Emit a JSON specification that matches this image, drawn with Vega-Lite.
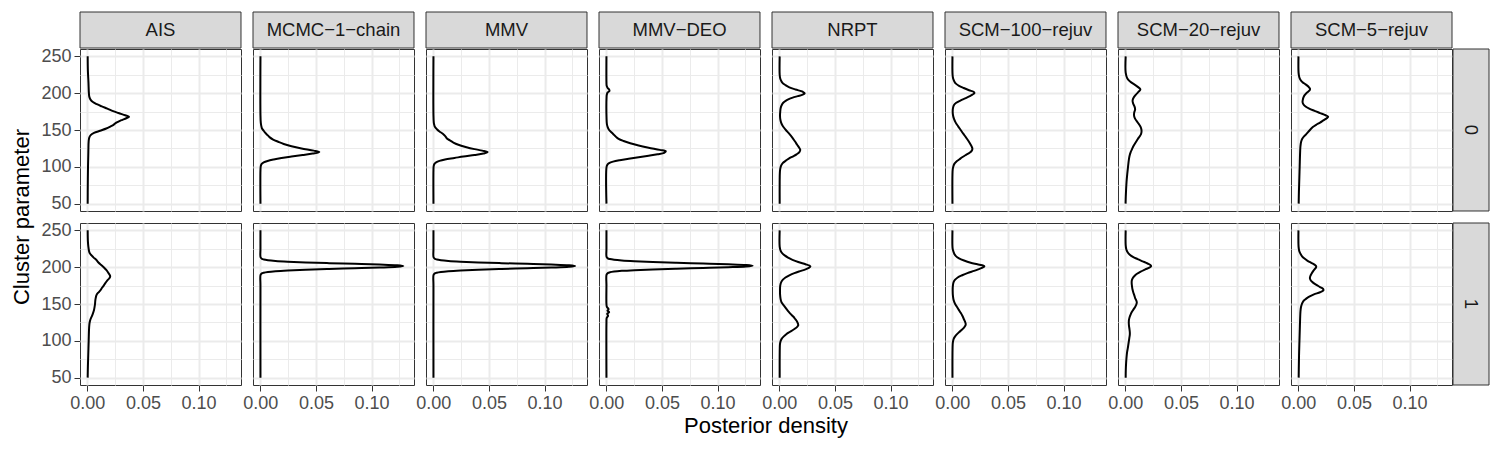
{
  "$schema": "https://vega.github.io/schema/vega-lite/v6.json",
  "background": "white",
  "padding": {"left": 10, "top": 11, "right": 10, "bottom": 5},
  "config": {
    "font": "Liberation Sans",
    "view": {"stroke": "#333333", "strokeWidth": 1},
    "axis": {
      "gridColor": "#EBEBEB",
      "labelColor": "#4D4D4D",
      "labelFontSize": 18,
      "labelFont": "Liberation Sans",
      "tickColor": "#333333",
      "tickSize": 6,
      "tickWidth": 1,
      "domain": false,
      "labelFlush": false,
      "labelPadding": 3
    }
  },
  "datasets": {
    "methods": [
      {"method": "AIS"}, {"method": "MCMC−1−chain"}, {"method": "MMV"}, {"method": "MMV−DEO"},
      {"method": "NRPT"}, {"method": "SCM−100−rejuv"}, {"method": "SCM−20−rejuv"}, {"method": "SCM−5−rejuv"}
    ],
    "clusters": [{"cluster": "0"}, {"cluster": "1"}],
    "curves": [
      {"method":"AIS","cluster":"0","param":250,"density":0.0003},
      {"method":"AIS","cluster":"0","param":230,"density":0.0005},
      {"method":"AIS","cluster":"0","param":215,"density":0.001},
      {"method":"AIS","cluster":"0","param":200,"density":0.0014},
      {"method":"AIS","cluster":"0","param":195,"density":0.0018},
      {"method":"AIS","cluster":"0","param":191,"density":0.003},
      {"method":"AIS","cluster":"0","param":188,"density":0.005},
      {"method":"AIS","cluster":"0","param":185,"density":0.0085},
      {"method":"AIS","cluster":"0","param":182,"density":0.013},
      {"method":"AIS","cluster":"0","param":179,"density":0.018},
      {"method":"AIS","cluster":"0","param":176,"density":0.0225},
      {"method":"AIS","cluster":"0","param":173,"density":0.028},
      {"method":"AIS","cluster":"0","param":170,"density":0.034},
      {"method":"AIS","cluster":"0","param":168,"density":0.0375},
      {"method":"AIS","cluster":"0","param":166,"density":0.035},
      {"method":"AIS","cluster":"0","param":163,"density":0.03},
      {"method":"AIS","cluster":"0","param":160,"density":0.026},
      {"method":"AIS","cluster":"0","param":157,"density":0.0235},
      {"method":"AIS","cluster":"0","param":155,"density":0.021},
      {"method":"AIS","cluster":"0","param":152,"density":0.017},
      {"method":"AIS","cluster":"0","param":149,"density":0.0115},
      {"method":"AIS","cluster":"0","param":146,"density":0.006},
      {"method":"AIS","cluster":"0","param":143,"density":0.003},
      {"method":"AIS","cluster":"0","param":140,"density":0.0018},
      {"method":"AIS","cluster":"0","param":135,"density":0.0012},
      {"method":"AIS","cluster":"0","param":120,"density":0.0009},
      {"method":"AIS","cluster":"0","param":100,"density":0.0006},
      {"method":"AIS","cluster":"0","param":75,"density":0.0004},
      {"method":"AIS","cluster":"0","param":50,"density":0.0003},

      {"method":"AIS","cluster":"1","param":250,"density":0.0003},
      {"method":"AIS","cluster":"1","param":235,"density":0.0005},
      {"method":"AIS","cluster":"1","param":228,"density":0.0009},
      {"method":"AIS","cluster":"1","param":222,"density":0.0015},
      {"method":"AIS","cluster":"1","param":219,"density":0.0022},
      {"method":"AIS","cluster":"1","param":216,"density":0.0038},
      {"method":"AIS","cluster":"1","param":213,"density":0.0057},
      {"method":"AIS","cluster":"1","param":210,"density":0.008},
      {"method":"AIS","cluster":"1","param":206,"density":0.0102},
      {"method":"AIS","cluster":"1","param":203,"density":0.0125},
      {"method":"AIS","cluster":"1","param":200,"density":0.0147},
      {"method":"AIS","cluster":"1","param":196,"density":0.0172},
      {"method":"AIS","cluster":"1","param":192,"density":0.019},
      {"method":"AIS","cluster":"1","param":189,"density":0.0203},
      {"method":"AIS","cluster":"1","param":187,"density":0.0205},
      {"method":"AIS","cluster":"1","param":185,"density":0.0198},
      {"method":"AIS","cluster":"1","param":182,"density":0.018},
      {"method":"AIS","cluster":"1","param":178,"density":0.016},
      {"method":"AIS","cluster":"1","param":175,"density":0.0147},
      {"method":"AIS","cluster":"1","param":172,"density":0.0132},
      {"method":"AIS","cluster":"1","param":168,"density":0.0115},
      {"method":"AIS","cluster":"1","param":165,"density":0.0095},
      {"method":"AIS","cluster":"1","param":162,"density":0.0082},
      {"method":"AIS","cluster":"1","param":158,"density":0.0075},
      {"method":"AIS","cluster":"1","param":154,"density":0.0071},
      {"method":"AIS","cluster":"1","param":150,"density":0.0069},
      {"method":"AIS","cluster":"1","param":146,"density":0.0065},
      {"method":"AIS","cluster":"1","param":142,"density":0.006},
      {"method":"AIS","cluster":"1","param":138,"density":0.0052},
      {"method":"AIS","cluster":"1","param":134,"density":0.0042},
      {"method":"AIS","cluster":"1","param":130,"density":0.003},
      {"method":"AIS","cluster":"1","param":126,"density":0.0022},
      {"method":"AIS","cluster":"1","param":122,"density":0.0018},
      {"method":"AIS","cluster":"1","param":115,"density":0.0015},
      {"method":"AIS","cluster":"1","param":100,"density":0.0012},
      {"method":"AIS","cluster":"1","param":80,"density":0.0008},
      {"method":"AIS","cluster":"1","param":65,"density":0.0005},
      {"method":"AIS","cluster":"1","param":50,"density":0.0003},

      {"method":"MCMC−1−chain","cluster":"0","param":250,"density":0.0001},
      {"method":"MCMC−1−chain","cluster":"0","param":170,"density":0.0001},
      {"method":"MCMC−1−chain","cluster":"0","param":160,"density":0.0004},
      {"method":"MCMC−1−chain","cluster":"0","param":156,"density":0.0008},
      {"method":"MCMC−1−chain","cluster":"0","param":152,"density":0.0015},
      {"method":"MCMC−1−chain","cluster":"0","param":149,"density":0.003},
      {"method":"MCMC−1−chain","cluster":"0","param":146,"density":0.0045},
      {"method":"MCMC−1−chain","cluster":"0","param":143,"density":0.0065},
      {"method":"MCMC−1−chain","cluster":"0","param":140,"density":0.0085},
      {"method":"MCMC−1−chain","cluster":"0","param":137,"density":0.0115},
      {"method":"MCMC−1−chain","cluster":"0","param":134,"density":0.016},
      {"method":"MCMC−1−chain","cluster":"0","param":131,"density":0.021},
      {"method":"MCMC−1−chain","cluster":"0","param":128,"density":0.028},
      {"method":"MCMC−1−chain","cluster":"0","param":125,"density":0.037},
      {"method":"MCMC−1−chain","cluster":"0","param":122,"density":0.048},
      {"method":"MCMC−1−chain","cluster":"0","param":120,"density":0.053},
      {"method":"MCMC−1−chain","cluster":"0","param":118,"density":0.047},
      {"method":"MCMC−1−chain","cluster":"0","param":116,"density":0.038},
      {"method":"MCMC−1−chain","cluster":"0","param":114,"density":0.028},
      {"method":"MCMC−1−chain","cluster":"0","param":112,"density":0.019},
      {"method":"MCMC−1−chain","cluster":"0","param":110,"density":0.012},
      {"method":"MCMC−1−chain","cluster":"0","param":108,"density":0.0065},
      {"method":"MCMC−1−chain","cluster":"0","param":106,"density":0.003},
      {"method":"MCMC−1−chain","cluster":"0","param":104,"density":0.0012},
      {"method":"MCMC−1−chain","cluster":"0","param":101,"density":0.0004},
      {"method":"MCMC−1−chain","cluster":"0","param":95,"density":0.0001},
      {"method":"MCMC−1−chain","cluster":"0","param":50,"density":0.0001},

      {"method":"MCMC−1−chain","cluster":"1","param":250,"density":0.0001},
      {"method":"MCMC−1−chain","cluster":"1","param":225,"density":0.0001},
      {"method":"MCMC−1−chain","cluster":"1","param":213.5,"density":0.0002},
      {"method":"MCMC−1−chain","cluster":"1","param":211.5,"density":0.0013},
      {"method":"MCMC−1−chain","cluster":"1","param":210.5,"density":0.0031},
      {"method":"MCMC−1−chain","cluster":"1","param":209.5,"density":0.0068},
      {"method":"MCMC−1−chain","cluster":"1","param":208.5,"density":0.0136},
      {"method":"MCMC−1−chain","cluster":"1","param":207.5,"density":0.0246},
      {"method":"MCMC−1−chain","cluster":"1","param":206.5,"density":0.0408},
      {"method":"MCMC−1−chain","cluster":"1","param":205.5,"density":0.0617},
      {"method":"MCMC−1−chain","cluster":"1","param":204.5,"density":0.085},
      {"method":"MCMC−1−chain","cluster":"1","param":203.5,"density":0.107},
      {"method":"MCMC−1−chain","cluster":"1","param":202.5,"density":0.1228},
      {"method":"MCMC−1−chain","cluster":"1","param":201.5,"density":0.1285},
      {"method":"MCMC−1−chain","cluster":"1","param":200.5,"density":0.1228},
      {"method":"MCMC−1−chain","cluster":"1","param":199.5,"density":0.107},
      {"method":"MCMC−1−chain","cluster":"1","param":198.5,"density":0.085},
      {"method":"MCMC−1−chain","cluster":"1","param":197.5,"density":0.0617},
      {"method":"MCMC−1−chain","cluster":"1","param":196.5,"density":0.0408},
      {"method":"MCMC−1−chain","cluster":"1","param":195.5,"density":0.0246},
      {"method":"MCMC−1−chain","cluster":"1","param":194.5,"density":0.0136},
      {"method":"MCMC−1−chain","cluster":"1","param":193.5,"density":0.0068},
      {"method":"MCMC−1−chain","cluster":"1","param":192.5,"density":0.0031},
      {"method":"MCMC−1−chain","cluster":"1","param":191.5,"density":0.0013},
      {"method":"MCMC−1−chain","cluster":"1","param":189.5,"density":0.0002},
      {"method":"MCMC−1−chain","cluster":"1","param":175,"density":0.0001},
      {"method":"MCMC−1−chain","cluster":"1","param":50,"density":0.0001},

      {"method":"MMV","cluster":"0","param":250,"density":0.0001},
      {"method":"MMV","cluster":"0","param":170,"density":0.0001},
      {"method":"MMV","cluster":"0","param":160,"density":0.0004},
      {"method":"MMV","cluster":"0","param":157,"density":0.0008},
      {"method":"MMV","cluster":"0","param":154,"density":0.0015},
      {"method":"MMV","cluster":"0","param":151,"density":0.0032},
      {"method":"MMV","cluster":"0","param":148,"density":0.0055},
      {"method":"MMV","cluster":"0","param":145,"density":0.0085},
      {"method":"MMV","cluster":"0","param":142,"density":0.0105},
      {"method":"MMV","cluster":"0","param":140,"density":0.0115},
      {"method":"MMV","cluster":"0","param":138,"density":0.0125},
      {"method":"MMV","cluster":"0","param":136,"density":0.0148},
      {"method":"MMV","cluster":"0","param":133,"density":0.018},
      {"method":"MMV","cluster":"0","param":130,"density":0.0225},
      {"method":"MMV","cluster":"0","param":127,"density":0.029},
      {"method":"MMV","cluster":"0","param":124,"density":0.037},
      {"method":"MMV","cluster":"0","param":122,"density":0.044},
      {"method":"MMV","cluster":"0","param":120,"density":0.0488},
      {"method":"MMV","cluster":"0","param":118,"density":0.045},
      {"method":"MMV","cluster":"0","param":116,"density":0.037},
      {"method":"MMV","cluster":"0","param":114,"density":0.027},
      {"method":"MMV","cluster":"0","param":112,"density":0.019},
      {"method":"MMV","cluster":"0","param":110,"density":0.0105},
      {"method":"MMV","cluster":"0","param":108,"density":0.0055},
      {"method":"MMV","cluster":"0","param":106,"density":0.0025},
      {"method":"MMV","cluster":"0","param":104,"density":0.001},
      {"method":"MMV","cluster":"0","param":101,"density":0.0003},
      {"method":"MMV","cluster":"0","param":95,"density":0.0001},
      {"method":"MMV","cluster":"0","param":50,"density":0.0001},

      {"method":"MMV","cluster":"1","param":250,"density":0.0001},
      {"method":"MMV","cluster":"1","param":225,"density":0.0001},
      {"method":"MMV","cluster":"1","param":213.5,"density":0.0002},
      {"method":"MMV","cluster":"1","param":211.5,"density":0.0013},
      {"method":"MMV","cluster":"1","param":210.5,"density":0.0031},
      {"method":"MMV","cluster":"1","param":209.5,"density":0.0068},
      {"method":"MMV","cluster":"1","param":208.5,"density":0.0135},
      {"method":"MMV","cluster":"1","param":207.5,"density":0.0244},
      {"method":"MMV","cluster":"1","param":206.5,"density":0.0404},
      {"method":"MMV","cluster":"1","param":205.5,"density":0.0612},
      {"method":"MMV","cluster":"1","param":204.5,"density":0.0844},
      {"method":"MMV","cluster":"1","param":203.5,"density":0.1061},
      {"method":"MMV","cluster":"1","param":202.5,"density":0.1218},
      {"method":"MMV","cluster":"1","param":201.5,"density":0.1275},
      {"method":"MMV","cluster":"1","param":200.5,"density":0.1218},
      {"method":"MMV","cluster":"1","param":199.5,"density":0.1061},
      {"method":"MMV","cluster":"1","param":198.5,"density":0.0844},
      {"method":"MMV","cluster":"1","param":197.5,"density":0.0612},
      {"method":"MMV","cluster":"1","param":196.5,"density":0.0404},
      {"method":"MMV","cluster":"1","param":195.5,"density":0.0244},
      {"method":"MMV","cluster":"1","param":194.5,"density":0.0135},
      {"method":"MMV","cluster":"1","param":193.5,"density":0.0068},
      {"method":"MMV","cluster":"1","param":192.5,"density":0.0031},
      {"method":"MMV","cluster":"1","param":191.5,"density":0.0013},
      {"method":"MMV","cluster":"1","param":189.5,"density":0.0002},
      {"method":"MMV","cluster":"1","param":175,"density":0.0001},
      {"method":"MMV","cluster":"1","param":50,"density":0.0001},

      {"method":"MMV−DEO","cluster":"0","param":250,"density":0.0001},
      {"method":"MMV−DEO","cluster":"0","param":215,"density":0.0001},
      {"method":"MMV−DEO","cluster":"0","param":210,"density":0.0003},
      {"method":"MMV−DEO","cluster":"0","param":207,"density":0.0012},
      {"method":"MMV−DEO","cluster":"0","param":205,"density":0.0025},
      {"method":"MMV−DEO","cluster":"0","param":203,"density":0.0028},
      {"method":"MMV−DEO","cluster":"0","param":201,"density":0.0012},
      {"method":"MMV−DEO","cluster":"0","param":198,"density":0.0004},
      {"method":"MMV−DEO","cluster":"0","param":195,"density":0.0002},
      {"method":"MMV−DEO","cluster":"0","param":165,"density":0.0002},
      {"method":"MMV−DEO","cluster":"0","param":158,"density":0.0005},
      {"method":"MMV−DEO","cluster":"0","param":154,"density":0.0012},
      {"method":"MMV−DEO","cluster":"0","param":150,"density":0.0025},
      {"method":"MMV−DEO","cluster":"0","param":147,"density":0.0045},
      {"method":"MMV−DEO","cluster":"0","param":144,"density":0.0065},
      {"method":"MMV−DEO","cluster":"0","param":141,"density":0.0085},
      {"method":"MMV−DEO","cluster":"0","param":138,"density":0.011},
      {"method":"MMV−DEO","cluster":"0","param":135,"density":0.0155},
      {"method":"MMV−DEO","cluster":"0","param":132,"density":0.0215},
      {"method":"MMV−DEO","cluster":"0","param":129,"density":0.029},
      {"method":"MMV−DEO","cluster":"0","param":126,"density":0.038},
      {"method":"MMV−DEO","cluster":"0","param":123,"density":0.048},
      {"method":"MMV−DEO","cluster":"0","param":121,"density":0.0535},
      {"method":"MMV−DEO","cluster":"0","param":119,"density":0.052},
      {"method":"MMV−DEO","cluster":"0","param":117,"density":0.046},
      {"method":"MMV−DEO","cluster":"0","param":115,"density":0.038},
      {"method":"MMV−DEO","cluster":"0","param":113,"density":0.029},
      {"method":"MMV−DEO","cluster":"0","param":111,"density":0.02},
      {"method":"MMV−DEO","cluster":"0","param":109,"density":0.012},
      {"method":"MMV−DEO","cluster":"0","param":107,"density":0.006},
      {"method":"MMV−DEO","cluster":"0","param":105,"density":0.0025},
      {"method":"MMV−DEO","cluster":"0","param":103,"density":0.001},
      {"method":"MMV−DEO","cluster":"0","param":100,"density":0.0002},
      {"method":"MMV−DEO","cluster":"0","param":50,"density":0.0001},

      {"method":"MMV−DEO","cluster":"1","param":250,"density":0.0001},
      {"method":"MMV−DEO","cluster":"1","param":225,"density":0.0001},
      {"method":"MMV−DEO","cluster":"1","param":214,"density":0.0002},
      {"method":"MMV−DEO","cluster":"1","param":212,"density":0.0013},
      {"method":"MMV−DEO","cluster":"1","param":211,"density":0.0032},
      {"method":"MMV−DEO","cluster":"1","param":210,"density":0.007},
      {"method":"MMV−DEO","cluster":"1","param":209,"density":0.0139},
      {"method":"MMV−DEO","cluster":"1","param":208,"density":0.0252},
      {"method":"MMV−DEO","cluster":"1","param":207,"density":0.0417},
      {"method":"MMV−DEO","cluster":"1","param":206,"density":0.063},
      {"method":"MMV−DEO","cluster":"1","param":205,"density":0.087},
      {"method":"MMV−DEO","cluster":"1","param":204,"density":0.1094},
      {"method":"MMV−DEO","cluster":"1","param":203,"density":0.1256},
      {"method":"MMV−DEO","cluster":"1","param":202,"density":0.1315},
      {"method":"MMV−DEO","cluster":"1","param":201,"density":0.1256},
      {"method":"MMV−DEO","cluster":"1","param":200,"density":0.1094},
      {"method":"MMV−DEO","cluster":"1","param":199,"density":0.087},
      {"method":"MMV−DEO","cluster":"1","param":198,"density":0.063},
      {"method":"MMV−DEO","cluster":"1","param":197,"density":0.0417},
      {"method":"MMV−DEO","cluster":"1","param":196,"density":0.0252},
      {"method":"MMV−DEO","cluster":"1","param":195,"density":0.0139},
      {"method":"MMV−DEO","cluster":"1","param":194,"density":0.007},
      {"method":"MMV−DEO","cluster":"1","param":193,"density":0.0032},
      {"method":"MMV−DEO","cluster":"1","param":192,"density":0.0013},
      {"method":"MMV−DEO","cluster":"1","param":190,"density":0.0002},
      {"method":"MMV−DEO","cluster":"1","param":175,"density":0.0001},
      {"method":"MMV−DEO","cluster":"1","param":150,"density":0.0001},
      {"method":"MMV−DEO","cluster":"1","param":146,"density":0.0005},
      {"method":"MMV−DEO","cluster":"1","param":143,"density":0.002},
      {"method":"MMV−DEO","cluster":"1","param":141,"density":0.001},
      {"method":"MMV−DEO","cluster":"1","param":139,"density":0.0025},
      {"method":"MMV−DEO","cluster":"1","param":137,"density":0.0008},
      {"method":"MMV−DEO","cluster":"1","param":134,"density":0.0015},
      {"method":"MMV−DEO","cluster":"1","param":131,"density":0.0003},
      {"method":"MMV−DEO","cluster":"1","param":125,"density":0.0001},
      {"method":"MMV−DEO","cluster":"1","param":50,"density":0.0001},

      {"method":"NRPT","cluster":"0","param":250,"density":0.0003},
      {"method":"NRPT","cluster":"0","param":225,"density":0.0003},
      {"method":"NRPT","cluster":"0","param":220,"density":0.0008},
      {"method":"NRPT","cluster":"0","param":217,"density":0.0016},
      {"method":"NRPT","cluster":"0","param":214,"density":0.0028},
      {"method":"NRPT","cluster":"0","param":211,"density":0.0055},
      {"method":"NRPT","cluster":"0","param":208,"density":0.009},
      {"method":"NRPT","cluster":"0","param":205,"density":0.0145},
      {"method":"NRPT","cluster":"0","param":202,"density":0.021},
      {"method":"NRPT","cluster":"0","param":200,"density":0.0228},
      {"method":"NRPT","cluster":"0","param":198,"density":0.021},
      {"method":"NRPT","cluster":"0","param":196,"density":0.0165},
      {"method":"NRPT","cluster":"0","param":194,"density":0.012},
      {"method":"NRPT","cluster":"0","param":192,"density":0.0085},
      {"method":"NRPT","cluster":"0","param":190,"density":0.006},
      {"method":"NRPT","cluster":"0","param":187,"density":0.0035},
      {"method":"NRPT","cluster":"0","param":184,"density":0.0022},
      {"method":"NRPT","cluster":"0","param":180,"density":0.0012},
      {"method":"NRPT","cluster":"0","param":175,"density":0.0008},
      {"method":"NRPT","cluster":"0","param":170,"density":0.0006},
      {"method":"NRPT","cluster":"0","param":165,"density":0.0008},
      {"method":"NRPT","cluster":"0","param":160,"density":0.0016},
      {"method":"NRPT","cluster":"0","param":155,"density":0.0032},
      {"method":"NRPT","cluster":"0","param":150,"density":0.0058},
      {"method":"NRPT","cluster":"0","param":145,"density":0.0088},
      {"method":"NRPT","cluster":"0","param":140,"density":0.0115},
      {"method":"NRPT","cluster":"0","param":135,"density":0.0138},
      {"method":"NRPT","cluster":"0","param":130,"density":0.016},
      {"method":"NRPT","cluster":"0","param":126,"density":0.0178},
      {"method":"NRPT","cluster":"0","param":123,"density":0.0188},
      {"method":"NRPT","cluster":"0","param":120,"density":0.018},
      {"method":"NRPT","cluster":"0","param":117,"density":0.0155},
      {"method":"NRPT","cluster":"0","param":114,"density":0.012},
      {"method":"NRPT","cluster":"0","param":111,"density":0.0085},
      {"method":"NRPT","cluster":"0","param":108,"density":0.0055},
      {"method":"NRPT","cluster":"0","param":105,"density":0.003},
      {"method":"NRPT","cluster":"0","param":102,"density":0.0017},
      {"method":"NRPT","cluster":"0","param":98,"density":0.0009},
      {"method":"NRPT","cluster":"0","param":93,"density":0.0005},
      {"method":"NRPT","cluster":"0","param":80,"density":0.0003},
      {"method":"NRPT","cluster":"0","param":50,"density":0.0003},

      {"method":"NRPT","cluster":"1","param":250,"density":0.0003},
      {"method":"NRPT","cluster":"1","param":228,"density":0.0003},
      {"method":"NRPT","cluster":"1","param":222,"density":0.0012},
      {"method":"NRPT","cluster":"1","param":219,"density":0.0025},
      {"method":"NRPT","cluster":"1","param":216,"density":0.0048},
      {"method":"NRPT","cluster":"1","param":213,"density":0.0078},
      {"method":"NRPT","cluster":"1","param":210,"density":0.0118},
      {"method":"NRPT","cluster":"1","param":207,"density":0.017},
      {"method":"NRPT","cluster":"1","param":204,"density":0.0235},
      {"method":"NRPT","cluster":"1","param":202,"density":0.0272},
      {"method":"NRPT","cluster":"1","param":201,"density":0.0279},
      {"method":"NRPT","cluster":"1","param":199,"density":0.0265},
      {"method":"NRPT","cluster":"1","param":197,"density":0.0235},
      {"method":"NRPT","cluster":"1","param":195,"density":0.0195},
      {"method":"NRPT","cluster":"1","param":192,"density":0.0135},
      {"method":"NRPT","cluster":"1","param":189,"density":0.009},
      {"method":"NRPT","cluster":"1","param":186,"density":0.0055},
      {"method":"NRPT","cluster":"1","param":183,"density":0.0032},
      {"method":"NRPT","cluster":"1","param":180,"density":0.0018},
      {"method":"NRPT","cluster":"1","param":175,"density":0.0008},
      {"method":"NRPT","cluster":"1","param":168,"density":0.0006},
      {"method":"NRPT","cluster":"1","param":162,"density":0.0007},
      {"method":"NRPT","cluster":"1","param":157,"density":0.0011},
      {"method":"NRPT","cluster":"1","param":153,"density":0.0018},
      {"method":"NRPT","cluster":"1","param":150,"density":0.003},
      {"method":"NRPT","cluster":"1","param":147,"density":0.0045},
      {"method":"NRPT","cluster":"1","param":144,"density":0.006},
      {"method":"NRPT","cluster":"1","param":141,"density":0.0075},
      {"method":"NRPT","cluster":"1","param":137,"density":0.0098},
      {"method":"NRPT","cluster":"1","param":133,"density":0.0125},
      {"method":"NRPT","cluster":"1","param":129,"density":0.0145},
      {"method":"NRPT","cluster":"1","param":126,"density":0.016},
      {"method":"NRPT","cluster":"1","param":123,"density":0.0168},
      {"method":"NRPT","cluster":"1","param":121,"density":0.017},
      {"method":"NRPT","cluster":"1","param":119,"density":0.016},
      {"method":"NRPT","cluster":"1","param":117,"density":0.0145},
      {"method":"NRPT","cluster":"1","param":115,"density":0.0125},
      {"method":"NRPT","cluster":"1","param":112,"density":0.0092},
      {"method":"NRPT","cluster":"1","param":109,"density":0.0062},
      {"method":"NRPT","cluster":"1","param":106,"density":0.004},
      {"method":"NRPT","cluster":"1","param":103,"density":0.0022},
      {"method":"NRPT","cluster":"1","param":100,"density":0.0012},
      {"method":"NRPT","cluster":"1","param":96,"density":0.0006},
      {"method":"NRPT","cluster":"1","param":90,"density":0.0004},
      {"method":"NRPT","cluster":"1","param":50,"density":0.0003},

      {"method":"SCM−100−rejuv","cluster":"0","param":250,"density":0.0001},
      {"method":"SCM−100−rejuv","cluster":"0","param":225,"density":0.0002},
      {"method":"SCM−100−rejuv","cluster":"0","param":220,"density":0.0007},
      {"method":"SCM−100−rejuv","cluster":"0","param":216,"density":0.0018},
      {"method":"SCM−100−rejuv","cluster":"0","param":213,"density":0.0032},
      {"method":"SCM−100−rejuv","cluster":"0","param":210,"density":0.006},
      {"method":"SCM−100−rejuv","cluster":"0","param":207,"density":0.0102},
      {"method":"SCM−100−rejuv","cluster":"0","param":204,"density":0.015},
      {"method":"SCM−100−rejuv","cluster":"0","param":201.5,"density":0.0195},
      {"method":"SCM−100−rejuv","cluster":"0","param":200,"density":0.0198},
      {"method":"SCM−100−rejuv","cluster":"0","param":198,"density":0.018},
      {"method":"SCM−100−rejuv","cluster":"0","param":196,"density":0.0158},
      {"method":"SCM−100−rejuv","cluster":"0","param":193,"density":0.0115},
      {"method":"SCM−100−rejuv","cluster":"0","param":190,"density":0.0072},
      {"method":"SCM−100−rejuv","cluster":"0","param":187,"density":0.0035},
      {"method":"SCM−100−rejuv","cluster":"0","param":184,"density":0.0015},
      {"method":"SCM−100−rejuv","cluster":"0","param":180,"density":0.0006},
      {"method":"SCM−100−rejuv","cluster":"0","param":175,"density":0.0003},
      {"method":"SCM−100−rejuv","cluster":"0","param":170,"density":0.0006},
      {"method":"SCM−100−rejuv","cluster":"0","param":165,"density":0.0015},
      {"method":"SCM−100−rejuv","cluster":"0","param":160,"density":0.003},
      {"method":"SCM−100−rejuv","cluster":"0","param":155,"density":0.0052},
      {"method":"SCM−100−rejuv","cluster":"0","param":150,"density":0.0075},
      {"method":"SCM−100−rejuv","cluster":"0","param":145,"density":0.0098},
      {"method":"SCM−100−rejuv","cluster":"0","param":140,"density":0.0122},
      {"method":"SCM−100−rejuv","cluster":"0","param":135,"density":0.0145},
      {"method":"SCM−100−rejuv","cluster":"0","param":130,"density":0.0165},
      {"method":"SCM−100−rejuv","cluster":"0","param":126,"density":0.0178},
      {"method":"SCM−100−rejuv","cluster":"0","param":124,"density":0.018},
      {"method":"SCM−100−rejuv","cluster":"0","param":122,"density":0.0175},
      {"method":"SCM−100−rejuv","cluster":"0","param":119,"density":0.0155},
      {"method":"SCM−100−rejuv","cluster":"0","param":116,"density":0.012},
      {"method":"SCM−100−rejuv","cluster":"0","param":113,"density":0.0088},
      {"method":"SCM−100−rejuv","cluster":"0","param":110,"density":0.0062},
      {"method":"SCM−100−rejuv","cluster":"0","param":107,"density":0.0035},
      {"method":"SCM−100−rejuv","cluster":"0","param":104,"density":0.0018},
      {"method":"SCM−100−rejuv","cluster":"0","param":100,"density":0.0008},
      {"method":"SCM−100−rejuv","cluster":"0","param":96,"density":0.0003},
      {"method":"SCM−100−rejuv","cluster":"0","param":50,"density":0.0001},

      {"method":"SCM−100−rejuv","cluster":"1","param":250,"density":0.0001},
      {"method":"SCM−100−rejuv","cluster":"1","param":226,"density":0.0002},
      {"method":"SCM−100−rejuv","cluster":"1","param":222,"density":0.0008},
      {"method":"SCM−100−rejuv","cluster":"1","param":218,"density":0.0018},
      {"method":"SCM−100−rejuv","cluster":"1","param":215,"density":0.0032},
      {"method":"SCM−100−rejuv","cluster":"1","param":212,"density":0.006},
      {"method":"SCM−100−rejuv","cluster":"1","param":209,"density":0.0105},
      {"method":"SCM−100−rejuv","cluster":"1","param":206,"density":0.0165},
      {"method":"SCM−100−rejuv","cluster":"1","param":204,"density":0.0225},
      {"method":"SCM−100−rejuv","cluster":"1","param":202,"density":0.028},
      {"method":"SCM−100−rejuv","cluster":"1","param":201,"density":0.0288},
      {"method":"SCM−100−rejuv","cluster":"1","param":199,"density":0.0265},
      {"method":"SCM−100−rejuv","cluster":"1","param":197,"density":0.0232},
      {"method":"SCM−100−rejuv","cluster":"1","param":195,"density":0.0195},
      {"method":"SCM−100−rejuv","cluster":"1","param":192,"density":0.0135},
      {"method":"SCM−100−rejuv","cluster":"1","param":189,"density":0.0088},
      {"method":"SCM−100−rejuv","cluster":"1","param":186,"density":0.0048},
      {"method":"SCM−100−rejuv","cluster":"1","param":183,"density":0.0025},
      {"method":"SCM−100−rejuv","cluster":"1","param":180,"density":0.0012},
      {"method":"SCM−100−rejuv","cluster":"1","param":175,"density":0.0005},
      {"method":"SCM−100−rejuv","cluster":"1","param":168,"density":0.0003},
      {"method":"SCM−100−rejuv","cluster":"1","param":160,"density":0.0006},
      {"method":"SCM−100−rejuv","cluster":"1","param":155,"density":0.0012},
      {"method":"SCM−100−rejuv","cluster":"1","param":150,"density":0.0025},
      {"method":"SCM−100−rejuv","cluster":"1","param":146,"density":0.0042},
      {"method":"SCM−100−rejuv","cluster":"1","param":142,"density":0.0058},
      {"method":"SCM−100−rejuv","cluster":"1","param":138,"density":0.0075},
      {"method":"SCM−100−rejuv","cluster":"1","param":134,"density":0.009},
      {"method":"SCM−100−rejuv","cluster":"1","param":130,"density":0.0102},
      {"method":"SCM−100−rejuv","cluster":"1","param":126,"density":0.0114},
      {"method":"SCM−100−rejuv","cluster":"1","param":123,"density":0.012},
      {"method":"SCM−100−rejuv","cluster":"1","param":121,"density":0.0118},
      {"method":"SCM−100−rejuv","cluster":"1","param":118,"density":0.0105},
      {"method":"SCM−100−rejuv","cluster":"1","param":115,"density":0.0085},
      {"method":"SCM−100−rejuv","cluster":"1","param":112,"density":0.0062},
      {"method":"SCM−100−rejuv","cluster":"1","param":109,"density":0.0042},
      {"method":"SCM−100−rejuv","cluster":"1","param":106,"density":0.0025},
      {"method":"SCM−100−rejuv","cluster":"1","param":103,"density":0.0013},
      {"method":"SCM−100−rejuv","cluster":"1","param":99,"density":0.0006},
      {"method":"SCM−100−rejuv","cluster":"1","param":95,"density":0.0003},
      {"method":"SCM−100−rejuv","cluster":"1","param":50,"density":0.0001},

      {"method":"SCM−20−rejuv","cluster":"0","param":250,"density":0.0003},
      {"method":"SCM−20−rejuv","cluster":"0","param":228,"density":0.0003},
      {"method":"SCM−20−rejuv","cluster":"0","param":220,"density":0.0018},
      {"method":"SCM−20−rejuv","cluster":"0","param":215,"density":0.005},
      {"method":"SCM−20−rejuv","cluster":"0","param":211,"density":0.009},
      {"method":"SCM−20−rejuv","cluster":"0","param":207,"density":0.0125},
      {"method":"SCM−20−rejuv","cluster":"0","param":205,"density":0.0135},
      {"method":"SCM−20−rejuv","cluster":"0","param":202,"density":0.012},
      {"method":"SCM−20−rejuv","cluster":"0","param":198,"density":0.0095},
      {"method":"SCM−20−rejuv","cluster":"0","param":194,"density":0.0075},
      {"method":"SCM−20−rejuv","cluster":"0","param":190,"density":0.0065},
      {"method":"SCM−20−rejuv","cluster":"0","param":186,"density":0.007},
      {"method":"SCM−20−rejuv","cluster":"0","param":182,"density":0.0082},
      {"method":"SCM−20−rejuv","cluster":"0","param":178,"density":0.0088},
      {"method":"SCM−20−rejuv","cluster":"0","param":174,"density":0.008},
      {"method":"SCM−20−rejuv","cluster":"0","param":170,"density":0.0078},
      {"method":"SCM−20−rejuv","cluster":"0","param":166,"density":0.0085},
      {"method":"SCM−20−rejuv","cluster":"0","param":162,"density":0.0102},
      {"method":"SCM−20−rejuv","cluster":"0","param":158,"density":0.0122},
      {"method":"SCM−20−rejuv","cluster":"0","param":154,"density":0.0138},
      {"method":"SCM−20−rejuv","cluster":"0","param":150,"density":0.0145},
      {"method":"SCM−20−rejuv","cluster":"0","param":147,"density":0.0145},
      {"method":"SCM−20−rejuv","cluster":"0","param":144,"density":0.014},
      {"method":"SCM−20−rejuv","cluster":"0","param":140,"density":0.0122},
      {"method":"SCM−20−rejuv","cluster":"0","param":136,"density":0.0105},
      {"method":"SCM−20−rejuv","cluster":"0","param":132,"density":0.0088},
      {"method":"SCM−20−rejuv","cluster":"0","param":128,"density":0.0072},
      {"method":"SCM−20−rejuv","cluster":"0","param":124,"density":0.006},
      {"method":"SCM−20−rejuv","cluster":"0","param":120,"density":0.0048},
      {"method":"SCM−20−rejuv","cluster":"0","param":115,"density":0.0038},
      {"method":"SCM−20−rejuv","cluster":"0","param":110,"density":0.0032},
      {"method":"SCM−20−rejuv","cluster":"0","param":100,"density":0.0024},
      {"method":"SCM−20−rejuv","cluster":"0","param":90,"density":0.0017},
      {"method":"SCM−20−rejuv","cluster":"0","param":80,"density":0.0011},
      {"method":"SCM−20−rejuv","cluster":"0","param":70,"density":0.0007},
      {"method":"SCM−20−rejuv","cluster":"0","param":60,"density":0.0004},
      {"method":"SCM−20−rejuv","cluster":"0","param":50,"density":0.0002},

      {"method":"SCM−20−rejuv","cluster":"1","param":250,"density":0.0003},
      {"method":"SCM−20−rejuv","cluster":"1","param":230,"density":0.0003},
      {"method":"SCM−20−rejuv","cluster":"1","param":224,"density":0.0009},
      {"method":"SCM−20−rejuv","cluster":"1","param":220,"density":0.0022},
      {"method":"SCM−20−rejuv","cluster":"1","param":217,"density":0.004},
      {"method":"SCM−20−rejuv","cluster":"1","param":214,"density":0.0068},
      {"method":"SCM−20−rejuv","cluster":"1","param":211,"density":0.011},
      {"method":"SCM−20−rejuv","cluster":"1","param":208,"density":0.0155},
      {"method":"SCM−20−rejuv","cluster":"1","param":205,"density":0.02},
      {"method":"SCM−20−rejuv","cluster":"1","param":203,"density":0.0225},
      {"method":"SCM−20−rejuv","cluster":"1","param":201.5,"density":0.0232},
      {"method":"SCM−20−rejuv","cluster":"1","param":199.5,"density":0.0215},
      {"method":"SCM−20−rejuv","cluster":"1","param":197,"density":0.018},
      {"method":"SCM−20−rejuv","cluster":"1","param":194,"density":0.0138},
      {"method":"SCM−20−rejuv","cluster":"1","param":191,"density":0.0105},
      {"method":"SCM−20−rejuv","cluster":"1","param":188,"density":0.0082},
      {"method":"SCM−20−rejuv","cluster":"1","param":185,"density":0.0066},
      {"method":"SCM−20−rejuv","cluster":"1","param":182,"density":0.0058},
      {"method":"SCM−20−rejuv","cluster":"1","param":178,"density":0.0057},
      {"method":"SCM−20−rejuv","cluster":"1","param":174,"density":0.006},
      {"method":"SCM−20−rejuv","cluster":"1","param":170,"density":0.0064},
      {"method":"SCM−20−rejuv","cluster":"1","param":166,"density":0.0071},
      {"method":"SCM−20−rejuv","cluster":"1","param":162,"density":0.008},
      {"method":"SCM−20−rejuv","cluster":"1","param":158,"density":0.0088},
      {"method":"SCM−20−rejuv","cluster":"1","param":155,"density":0.0098},
      {"method":"SCM−20−rejuv","cluster":"1","param":152,"density":0.0103},
      {"method":"SCM−20−rejuv","cluster":"1","param":149,"density":0.0098},
      {"method":"SCM−20−rejuv","cluster":"1","param":146,"density":0.0088},
      {"method":"SCM−20−rejuv","cluster":"1","param":143,"density":0.0075},
      {"method":"SCM−20−rejuv","cluster":"1","param":140,"density":0.0062},
      {"method":"SCM−20−rejuv","cluster":"1","param":136,"density":0.0048},
      {"method":"SCM−20−rejuv","cluster":"1","param":132,"density":0.0038},
      {"method":"SCM−20−rejuv","cluster":"1","param":128,"density":0.0032},
      {"method":"SCM−20−rejuv","cluster":"1","param":124,"density":0.0031},
      {"method":"SCM−20−rejuv","cluster":"1","param":120,"density":0.0033},
      {"method":"SCM−20−rejuv","cluster":"1","param":116,"density":0.0037},
      {"method":"SCM−20−rejuv","cluster":"1","param":112,"density":0.004},
      {"method":"SCM−20−rejuv","cluster":"1","param":108,"density":0.004},
      {"method":"SCM−20−rejuv","cluster":"1","param":104,"density":0.0036},
      {"method":"SCM−20−rejuv","cluster":"1","param":100,"density":0.0032},
      {"method":"SCM−20−rejuv","cluster":"1","param":95,"density":0.0027},
      {"method":"SCM−20−rejuv","cluster":"1","param":90,"density":0.0022},
      {"method":"SCM−20−rejuv","cluster":"1","param":85,"density":0.0016},
      {"method":"SCM−20−rejuv","cluster":"1","param":78,"density":0.0011},
      {"method":"SCM−20−rejuv","cluster":"1","param":70,"density":0.0007},
      {"method":"SCM−20−rejuv","cluster":"1","param":60,"density":0.0004},
      {"method":"SCM−20−rejuv","cluster":"1","param":50,"density":0.0003},

      {"method":"SCM−5−rejuv","cluster":"0","param":250,"density":0.0001},
      {"method":"SCM−5−rejuv","cluster":"0","param":228,"density":0.0002},
      {"method":"SCM−5−rejuv","cluster":"0","param":222,"density":0.0008},
      {"method":"SCM−5−rejuv","cluster":"0","param":218,"density":0.002},
      {"method":"SCM−5−rejuv","cluster":"0","param":215,"density":0.0038},
      {"method":"SCM−5−rejuv","cluster":"0","param":212,"density":0.0065},
      {"method":"SCM−5−rejuv","cluster":"0","param":209,"density":0.009},
      {"method":"SCM−5−rejuv","cluster":"0","param":206,"density":0.0105},
      {"method":"SCM−5−rejuv","cluster":"0","param":204,"density":0.0102},
      {"method":"SCM−5−rejuv","cluster":"0","param":202,"density":0.0088},
      {"method":"SCM−5−rejuv","cluster":"0","param":200,"density":0.0072},
      {"method":"SCM−5−rejuv","cluster":"0","param":197,"density":0.0055},
      {"method":"SCM−5−rejuv","cluster":"0","param":194,"density":0.0045},
      {"method":"SCM−5−rejuv","cluster":"0","param":191,"density":0.004},
      {"method":"SCM−5−rejuv","cluster":"0","param":188,"density":0.0038},
      {"method":"SCM−5−rejuv","cluster":"0","param":185,"density":0.0045},
      {"method":"SCM−5−rejuv","cluster":"0","param":182,"density":0.0065},
      {"method":"SCM−5−rejuv","cluster":"0","param":179,"density":0.0098},
      {"method":"SCM−5−rejuv","cluster":"0","param":176,"density":0.0145},
      {"method":"SCM−5−rejuv","cluster":"0","param":173,"density":0.0195},
      {"method":"SCM−5−rejuv","cluster":"0","param":170,"density":0.0245},
      {"method":"SCM−5−rejuv","cluster":"0","param":168,"density":0.0268},
      {"method":"SCM−5−rejuv","cluster":"0","param":166,"density":0.0255},
      {"method":"SCM−5−rejuv","cluster":"0","param":163,"density":0.0225},
      {"method":"SCM−5−rejuv","cluster":"0","param":160,"density":0.0195},
      {"method":"SCM−5−rejuv","cluster":"0","param":157,"density":0.016},
      {"method":"SCM−5−rejuv","cluster":"0","param":154,"density":0.013},
      {"method":"SCM−5−rejuv","cluster":"0","param":151,"density":0.011},
      {"method":"SCM−5−rejuv","cluster":"0","param":148,"density":0.0092},
      {"method":"SCM−5−rejuv","cluster":"0","param":145,"density":0.0075},
      {"method":"SCM−5−rejuv","cluster":"0","param":142,"density":0.0055},
      {"method":"SCM−5−rejuv","cluster":"0","param":138,"density":0.0035},
      {"method":"SCM−5−rejuv","cluster":"0","param":134,"density":0.0025},
      {"method":"SCM−5−rejuv","cluster":"0","param":128,"density":0.0019},
      {"method":"SCM−5−rejuv","cluster":"0","param":120,"density":0.0016},
      {"method":"SCM−5−rejuv","cluster":"0","param":100,"density":0.0012},
      {"method":"SCM−5−rejuv","cluster":"0","param":80,"density":0.0008},
      {"method":"SCM−5−rejuv","cluster":"0","param":65,"density":0.0005},
      {"method":"SCM−5−rejuv","cluster":"0","param":50,"density":0.0003},

      {"method":"SCM−5−rejuv","cluster":"1","param":250,"density":0.0001},
      {"method":"SCM−5−rejuv","cluster":"1","param":228,"density":0.0002},
      {"method":"SCM−5−rejuv","cluster":"1","param":222,"density":0.0008},
      {"method":"SCM−5−rejuv","cluster":"1","param":218,"density":0.002},
      {"method":"SCM−5−rejuv","cluster":"1","param":215,"density":0.0032},
      {"method":"SCM−5−rejuv","cluster":"1","param":212,"density":0.0052},
      {"method":"SCM−5−rejuv","cluster":"1","param":209,"density":0.008},
      {"method":"SCM−5−rejuv","cluster":"1","param":206,"density":0.0115},
      {"method":"SCM−5−rejuv","cluster":"1","param":203.5,"density":0.0145},
      {"method":"SCM−5−rejuv","cluster":"1","param":201.5,"density":0.016},
      {"method":"SCM−5−rejuv","cluster":"1","param":199.5,"density":0.0158},
      {"method":"SCM−5−rejuv","cluster":"1","param":197,"density":0.0145},
      {"method":"SCM−5−rejuv","cluster":"1","param":194,"density":0.013},
      {"method":"SCM−5−rejuv","cluster":"1","param":191,"density":0.0118},
      {"method":"SCM−5−rejuv","cluster":"1","param":188,"density":0.0108},
      {"method":"SCM−5−rejuv","cluster":"1","param":185,"density":0.0104},
      {"method":"SCM−5−rejuv","cluster":"1","param":182,"density":0.0112},
      {"method":"SCM−5−rejuv","cluster":"1","param":179,"density":0.0132},
      {"method":"SCM−5−rejuv","cluster":"1","param":176,"density":0.0162},
      {"method":"SCM−5−rejuv","cluster":"1","param":173,"density":0.0195},
      {"method":"SCM−5−rejuv","cluster":"1","param":170.5,"density":0.0222},
      {"method":"SCM−5−rejuv","cluster":"1","param":168.5,"density":0.0225},
      {"method":"SCM−5−rejuv","cluster":"1","param":166,"density":0.0195},
      {"method":"SCM−5−rejuv","cluster":"1","param":163,"density":0.014},
      {"method":"SCM−5−rejuv","cluster":"1","param":160,"density":0.0098},
      {"method":"SCM−5−rejuv","cluster":"1","param":157,"density":0.0068},
      {"method":"SCM−5−rejuv","cluster":"1","param":154,"density":0.0045},
      {"method":"SCM−5−rejuv","cluster":"1","param":150,"density":0.0032},
      {"method":"SCM−5−rejuv","cluster":"1","param":146,"density":0.0024},
      {"method":"SCM−5−rejuv","cluster":"1","param":140,"density":0.0019},
      {"method":"SCM−5−rejuv","cluster":"1","param":130,"density":0.0016},
      {"method":"SCM−5−rejuv","cluster":"1","param":115,"density":0.0013},
      {"method":"SCM−5−rejuv","cluster":"1","param":100,"density":0.001},
      {"method":"SCM−5−rejuv","cluster":"1","param":85,"density":0.0007},
      {"method":"SCM−5−rejuv","cluster":"1","param":70,"density":0.0005},
      {"method":"SCM−5−rejuv","cluster":"1","param":50,"density":0.0003}
    ]
  },
  "spacing": -5,
  "vconcat": [
    {
      "data": {"name": "methods"},
      "width": 1372,
      "height": 36,
      "view": {"stroke": null},
      "encoding": {
        "x": {
          "field": "method", "type": "nominal",
          "sort": ["AIS", "MCMC−1−chain", "MMV", "MMV−DEO", "NRPT", "SCM−100−rejuv", "SCM−20−rejuv", "SCM−5−rejuv"],
          "scale": {"paddingInner": 0.0694, "paddingOuter": 0},
          "axis": null
        }
      },
      "layer": [
        {"mark": {"type": "rect", "fill": "#D9D9D9", "stroke": "#333333", "strokeWidth": 1}},
        {"mark": {"type": "text", "fontSize": 18.5, "color": "#1A1A1A", "font": "Liberation Sans"},
         "encoding": {"text": {"field": "method"}}}
      ]
    },
    {
      "spacing": -1,
      "hconcat": [
        {
          "data": {"name": "curves"},
          "bounds": "flush",
          "spacing": {"row": 12, "column": 12},
          "facet": {
            "row": {
              "field": "cluster", "type": "nominal",
              "header": {"labels": false, "title": "Cluster parameter", "titleOrient": "left",
                         "titleFontSize": 22, "titleFontWeight": "normal", "titleColor": "black",
                         "titleFont": "Liberation Sans", "titlePadding": -4}
            },
            "column": {
              "field": "method", "type": "nominal",
              "sort": ["AIS", "MCMC−1−chain", "MMV", "MMV−DEO", "NRPT", "SCM−100−rejuv", "SCM−20−rejuv", "SCM−5−rejuv"],
              "header": {"labels": false, "title": "Posterior density", "titleOrient": "bottom",
                         "titleFontSize": 22, "titleFontWeight": "normal", "titleColor": "black",
                         "titleFont": "Liberation Sans", "titlePadding": -6}
            }
          },
          "spec": {
            "width": 161,
            "height": 162,
            "mark": {"type": "line", "color": "black", "strokeWidth": 2, "interpolate": "catmull-rom"},
            "encoding": {
              "x": {
                "field": "density", "type": "quantitative",
                "scale": {"domain": [-0.0066, 0.1381], "nice": false, "zero": false},
                "axis": {
                  "title": null,
                  "values": [0, 0.025, 0.05, 0.075, 0.1, 0.125],
                  "labelExpr": "round(datum.value * 1000) % 50 == 0 ? format(datum.value, '.2f') : ''",
                  "gridWidth": {"condition": {"test": "round(datum.value * 1000) % 50 != 0", "value": 1}, "value": 2},
                  "tickOpacity": {"condition": {"test": "round(datum.value * 1000) % 50 != 0", "value": 0}, "value": 1}
                }
              },
              "y": {
                "field": "param", "type": "quantitative",
                "scale": {"domain": [40, 260], "nice": false, "zero": false},
                "axis": {
                  "title": null,
                  "values": [50, 75, 100, 125, 150, 175, 200, 225, 250],
                  "labelExpr": "datum.value % 50 == 0 ? datum.label : ''",
                  "gridWidth": {"condition": {"test": "datum.value % 50 != 0", "value": 1}, "value": 2},
                  "tickOpacity": {"condition": {"test": "datum.value % 50 != 0", "value": 0}, "value": 1}
                }
              },
              "order": {"field": "param", "type": "quantitative"}
            }
          }
        },
        {
          "data": {"name": "clusters"},
          "width": 36,
          "height": 336,
          "view": {"stroke": null},
          "encoding": {
            "y": {
              "field": "cluster", "type": "nominal",
              "scale": {"paddingInner": 0.069, "paddingOuter": 0},
              "axis": null
            }
          },
          "layer": [
            {"mark": {"type": "rect", "fill": "#D9D9D9", "stroke": "#333333", "strokeWidth": 1}},
            {"mark": {"type": "text", "fontSize": 18.5, "color": "#1A1A1A", "angle": 90, "font": "Liberation Sans"},
             "encoding": {"text": {"field": "cluster"}}}
          ]
        }
      ]
    }
  ]
}
